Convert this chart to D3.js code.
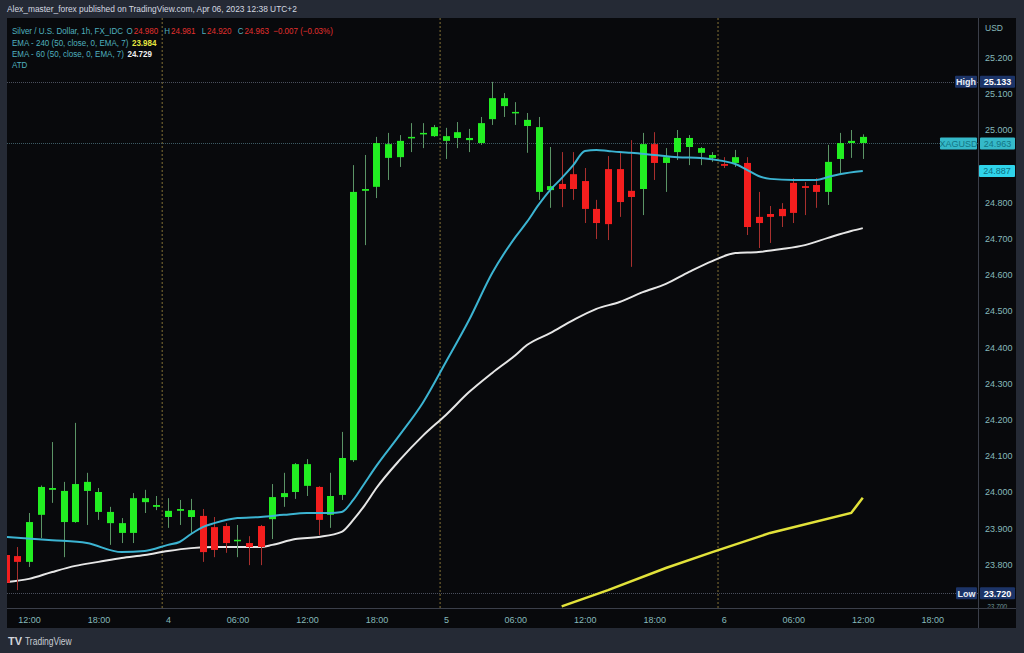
<!DOCTYPE html>
<html><head><meta charset="utf-8">
<script src="https://cdn.jsdelivr.net/npm/d3@7"></script>
<style>html,body{margin:0;padding:0;background:#252a35;overflow:hidden}text{font-family:"Liberation Sans","DejaVu Sans",sans-serif}</style>
</head><body><svg id="c" width="1024" height="653"></svg>
<script>
// ---- data (hours relative to Apr 4 00:00, UTC+2) ----
const candleHours = d3.range(-14, 61);
const openVals  = [23.826,23.823,23.807,23.937,24.006,23.917,23.917,24.003,23.945,23.914,23.887,23.887,23.972,23.959,
  23.931,23.948,23.931,23.934,23.903,23.906,23.865,23.859,23.906,23.925,23.986,24.000,24.017,24.014,23.937,23.992,24.088,
  24.832,24.843,24.923,24.925,24.978,24.989,24.983,24.970,24.978,24.972,24.964,25.030,25.066,25.047,25.011,24.829,24.834,
  24.851,24.878,24.859,24.782,24.892,24.892,24.832,24.837,24.961,24.909,24.939,24.953,24.937,24.923,24.906,24.909,24.909,
  24.760,24.768,24.782,24.854,24.845,24.848,24.829,24.920,24.964,24.964];
const highVals  = [23.850,23.848,23.942,24.018,24.138,24.028,24.191,24.053,24.011,23.959,23.928,23.997,24.006,23.989,
  23.983,23.978,23.981,23.953,23.931,23.914,23.909,23.878,23.909,24.022,24.053,24.080,24.091,24.016,24.053,24.166,24.903,
  24.931,24.981,24.992,24.986,25.019,25.019,25.014,25.006,25.022,25.003,25.036,25.133,25.102,25.077,25.047,25.036,24.953,
  24.939,24.939,24.895,24.807,24.928,24.937,24.972,24.992,24.994,24.950,25.000,24.986,24.953,24.939,24.925,24.945,24.925,
  24.829,24.790,24.798,24.867,24.856,24.867,24.959,24.992,25.000,24.988];
const lowVals   = [23.720,23.729,23.793,23.873,23.970,23.820,23.915,23.909,23.923,23.854,23.859,23.859,23.942,23.950,
  23.901,23.909,23.887,23.807,23.820,23.832,23.820,23.798,23.798,23.870,23.959,23.981,23.989,23.881,23.901,23.978,24.083,
  24.682,24.812,24.862,24.898,24.939,24.950,24.981,24.920,24.950,24.939,24.959,25.014,25.036,25.014,24.937,24.807,24.785,
  24.787,24.807,24.743,24.699,24.696,24.760,24.622,24.765,24.862,24.829,24.917,24.903,24.903,24.912,24.895,24.898,24.710,
  24.674,24.688,24.732,24.743,24.765,24.785,24.793,24.881,24.923,24.920];
const closeVals = [23.749,23.807,23.917,24.014,24.011,24.003,24.022,24.028,24.000,23.945,23.914,23.983,23.983,23.964,
  23.948,23.953,23.950,23.834,23.840,23.859,23.868,23.848,23.848,23.986,23.997,24.077,24.077,23.923,23.989,24.094,24.829,
  24.837,24.964,24.961,24.970,24.981,24.992,25.008,24.983,24.994,24.978,25.019,25.088,25.088,25.050,25.028,25.008,24.845,
  24.837,24.837,24.782,24.743,24.740,24.801,24.815,24.961,24.909,24.925,24.978,24.978,24.950,24.931,24.901,24.925,24.732,
  24.743,24.760,24.762,24.771,24.840,24.829,24.912,24.964,24.970,24.981];

// cyan line (ATD)
const atdHours  = [-14,-10,-7,-4,-2,0,1,2,3,4,6,8,10,12,14,15,16,17,18,20,22,24,26,28,30,31,32,33,34,35,36,37,38,39,40,42,44,46,48,49,50,51,52,54,56,57,58,60];
const atdVals   = [23.876,23.867,23.859,23.834,23.837,23.854,23.862,23.884,23.903,23.914,23.928,23.931,23.937,23.942,23.942,23.945,
  23.978,24.025,24.072,24.157,24.246,24.359,24.475,24.605,24.704,24.746,24.793,24.834,24.867,24.903,24.942,24.945,24.942,24.939,
  24.937,24.931,24.925,24.923,24.914,24.906,24.890,24.873,24.865,24.862,24.862,24.870,24.878,24.887];
// white line (EMA 60)
const ema60Hours = [-14,-12,-10,-8,-6,-4,-2,0,2,4,6,8,9,11,13,15,16,17,18,20,22,24,26,28,30,31,33,35,37,39,41,43,45,47,49,51,53,55,57,59,60];
const ema60Vals  = [23.751,23.760,23.779,23.796,23.807,23.818,23.826,23.837,23.845,23.848,23.848,23.848,23.854,23.870,23.876,23.890,
  23.923,23.964,24.011,24.088,24.155,24.213,24.276,24.329,24.378,24.406,24.439,24.475,24.506,24.525,24.552,24.575,24.608,24.638,
  24.660,24.663,24.671,24.682,24.702,24.721,24.729];
// yellow line (EMA 240)
const ema240Hours = [34,38,43,47,52,59,60];
const ema240Vals  = [23.684,23.729,23.790,23.834,23.887,23.942,23.984];

const priceTicks = [23.8,23.9,24.0,24.1,24.2,24.3,24.4,24.5,24.6,24.7,24.8,25.0,25.1,25.2];
const hiddenTick = 23.7;
const timeTickHours  = [-12,-6,0,6,12,18,24,30,36,42,48,54,60,66];
const timeTickLabels = ["12:00","18:00","4","06:00","12:00","18:00","5","06:00","12:00","18:00","6","06:00","12:00","18:00"];
const daySeparators = [-0.5, 23.5, 47.5];
const highVal = 25.133, lowVal = 23.720, lastVal = 24.963, atdLast = 24.887;

// ---- layout ----
const svg = d3.select("#c");
const L = 7, R = 978, T = 18, B = 608, AX = 1016, BOT = 628;
const x = d3.scaleLinear().domain([-13.9, 69.95]).range([L, R]);
const y = d3.scaleLinear().domain([23.6796, 25.3094]).range([B, T]);

svg.append("rect").attr("width",1024).attr("height",653).attr("fill","#252a35");
svg.append("rect").attr("x",L).attr("y",T).attr("width",AX-L).attr("height",BOT-T).attr("fill","#08090c");

const defs = svg.append("defs");
defs.append("clipPath").attr("id","plot").append("rect").attr("x",L).attr("y",T).attr("width",R-L).attr("height",B-T);
defs.append("clipPath").attr("id","pax").append("rect").attr("x",R).attr("y",T).attr("width",AX-R).attr("height",B-T);

const plot = svg.append("g").attr("clip-path","url(#plot)");

// day separators
plot.selectAll("line.day").data(daySeparators).join("line")
  .attr("x1",d=>x(d)).attr("x2",d=>x(d)).attr("y1",T).attr("y2",B)
  .attr("stroke","#857236").attr("stroke-width",1).attr("stroke-dasharray","2,2");

// high/low/last price lines
[[highVal,"#4a4f5c"],[lastVal,"#3d5a63"],[lowVal,"#4a4f5c"]].forEach(([v,c])=>{
  plot.append("line").attr("x1",L).attr("x2",R).attr("y1",Math.round(y(v))+0.5).attr("y2",Math.round(y(v))+0.5)
    .attr("stroke",c).attr("stroke-width",1).attr("stroke-dasharray","1,1");
});

// lines
const lineGen = d3.line().x(d=>x(d[0])).y(d=>y(d[1])).curve(d3.curveMonotoneX);
plot.append("path").datum(d3.zip(ema240Hours, ema240Vals)).attr("d", d3.line().x(d=>x(d[0])).y(d=>y(d[1])))
  .attr("fill","none").attr("stroke","#e2e23a").attr("stroke-width",2.5);
plot.append("path").datum(d3.zip(ema60Hours, ema60Vals)).attr("d", lineGen)
  .attr("fill","none").attr("stroke","#e6e6e6").attr("stroke-width",2);

// candles
const candles = candleHours.map((h,i)=>({h, o:openVals[i], hi:highVals[i], lo:lowVals[i], c:closeVals[i]}));
const bw = 7;
const cg = plot.append("g");
cg.selectAll("line").data(candles).join("line")
  .attr("x1",d=>Math.round(x(d.h))+0.5).attr("x2",d=>Math.round(x(d.h))+0.5)
  .attr("y1",d=>y(d.hi)).attr("y2",d=>y(d.lo))
  .attr("stroke",d=>d.c>=d.o?"#5b9466":"#a8302e").attr("stroke-width",1);
cg.selectAll("rect").data(candles).join("rect")
  .attr("x",d=>Math.round(x(d.h))-3).attr("width",bw)
  .attr("y",d=>y(Math.max(d.o,d.c)))
  .attr("height",d=>Math.max(1.5, Math.abs(y(d.o)-y(d.c))))
  .attr("fill",d=>d.c>=d.o?"#22ee22":"#f41e1e");

plot.append("path").datum(d3.zip(atdHours, atdVals)).attr("d", lineGen)
  .attr("fill","none").attr("stroke","#3cb4d2").attr("stroke-width",2);

// axes separators
svg.append("line").attr("x1",R+0.5).attr("x2",R+0.5).attr("y1",T).attr("y2",BOT).attr("stroke","#3b3f4a");
svg.append("line").attr("x1",L).attr("x2",AX).attr("y1",B+0.5).attr("y2",B+0.5).attr("stroke","#3b3f4a");

// price axis
const paxWrap = svg.append("g").attr("clip-path","url(#pax)");
const pax = paxWrap.append("g").attr("transform",`translate(${R},0)`)
  .call(d3.axisRight(y).tickValues(priceTicks).tickSize(0).tickPadding(7).tickFormat(d3.format(".3f")));
pax.select(".domain").remove();
pax.selectAll("text").attr("fill","#86b9bb").attr("font-size",9).attr("dy","0.32em");
paxWrap.append("text").attr("x",R+9).attr("y",y(hiddenTick)+8).text(d3.format(".3f")(hiddenTick))
  .attr("fill","#6f9698").attr("font-size",6.5).attr("font-style","italic");
svg.append("text").attr("x",R+7).attr("y",31).text("USD").attr("fill","#86b9bb").attr("font-size",8.5);

// time axis
const tax = svg.append("g").attr("transform",`translate(0,${B})`)
  .call(d3.axisBottom(x).tickValues(timeTickHours).tickSize(0).tickPadding(9).tickFormat((d,i)=>timeTickLabels[i]));
tax.select(".domain").remove();
tax.selectAll("text").attr("fill","#86b9bb").attr("font-size",9);

// price labels
function tag(x0, w, v, txt, fill, color, bold){
  const g = svg.append("g");
  g.append("rect").attr("x",x0).attr("y",y(v)-6).attr("width",w).attr("height",12).attr("fill",fill).attr("rx",1);
  g.append("text").attr("x",x0+w/2).attr("y",y(v)+3.2).attr("text-anchor","middle").text(txt)
    .attr("fill",color).attr("font-size",9).attr("font-weight",bold?"bold":"normal");
}
tag(955, 22, highVal, "High", "#1c3468", "#e8ecf4", true);
tag(980, 35, highVal, d3.format(".3f")(highVal), "#1c3468", "#ffffff", true);
tag(940, 37, lastVal, "XAGUSD", "#35b9c9", "#137585", false);
tag(980, 35, lastVal, d3.format(".3f")(lastVal), "#35b9c9", "#137585", false);
tag(979, 36, atdLast, d3.format(".3f")(atdLast), "#2fd3ea", "#0d6e80", false);
tag(956, 21, lowVal, "Low", "#1c3468", "#e8ecf4", true);
tag(980, 35, lowVal, d3.format(".3f")(lowVal), "#1c3468", "#ffffff", true);

// header (horizontally condensed like the reference)
svg.append("g").attr("transform","translate(7,12) scale(0.93,1)")
  .append("text").text("Alex_master_forex published on TradingView.com, Apr 06, 2023 12:38 UTC+2")
  .attr("fill","#d4d8e0").attr("font-size",9);

// legend rows: items laid out one after another (condensed group)
const teal = "#4fb0bf", red = "#e2302e";
const rows = [
  {y:34, items:[["Silver / U.S. Dollar, 1h, FX_IDC",teal,4],["O",teal,1],["24.980",red,7],["H",teal,1],["24.981",red,7],
                ["L",teal,1],["24.920",red,7],["C",teal,1],["24.963",red,5],["\u22120.007 (\u22120.03%)",red,0]]},
  {y:46, items:[["EMA - 240 (50, close, 0, EMA, 7)",teal,4],["23.984","#e6e640",0,true]]},
  {y:57, items:[["EMA - 60 (50, close, 0, EMA, 7)",teal,4],["24.729","#f0f0f0",0,true]]},
  {y:68, items:[["ATD",teal,0]]}
];
rows.forEach(r=>{
  const g = svg.append("g").attr("transform",`translate(12,${r.y}) scale(0.89,1)`);
  let cx = 0;
  r.items.forEach(([s,c,gap,bold])=>{
    const t = g.append("text").attr("x",cx).attr("y",0).text(s).attr("fill",c).attr("font-size",9);
    if (bold) t.attr("font-weight","bold");
    cx += t.node().getComputedTextLength() + gap;
  });
});

// footer logo
svg.append("text").attr("x",8).attr("y",645).text("TV").attr("fill","#d0d4dc").attr("font-size",11).attr("font-weight","bold");
svg.append("g").attr("transform","translate(25,645) scale(0.85,1)")
  .append("text").text("TradingView").attr("fill","#c8ccd4").attr("font-size",10);
</script></body></html>
